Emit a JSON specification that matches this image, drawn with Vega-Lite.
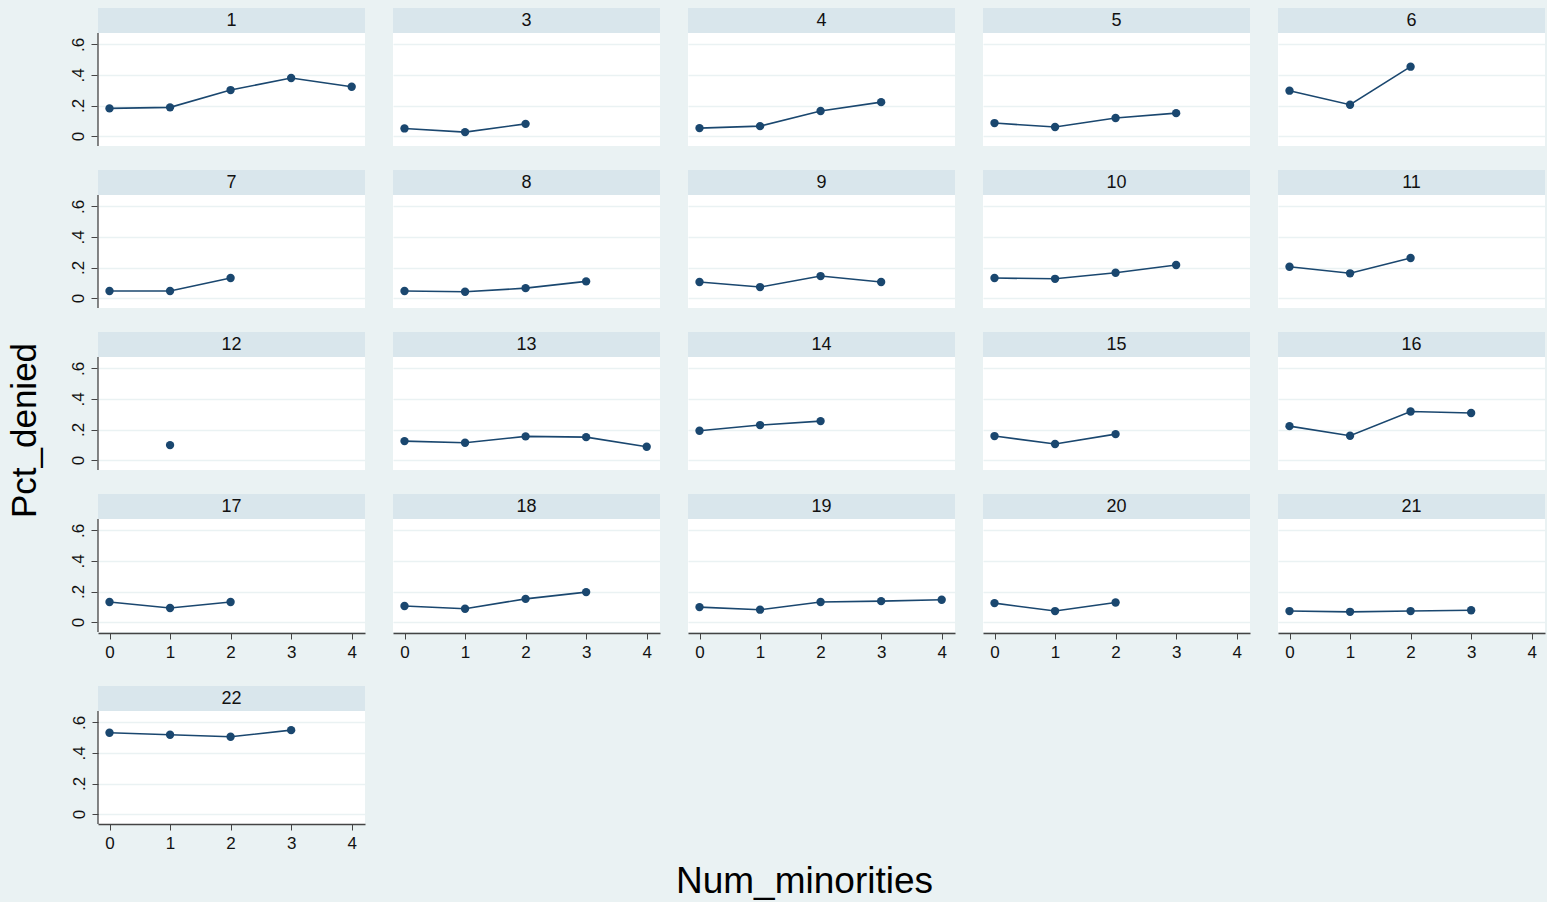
{
  "$schema": "https://vega.github.io/schema/vega-lite/v6.json",
  "background": "#eaf2f3",
  "padding": {"left": 8, "top": 7, "right": 2, "bottom": 2},
  "config": {
    "view": {"fill": "white", "stroke": null},
    "font": "Liberation Sans",
    "axis": {"labelFont": "Liberation Sans", "labelColor": "#111111"},
    "header": {"labels": false, "title": null},
    "headerFacet": {"labels": false, "title": null}
  },
  "title": {"text": "Num_minorities", "orient": "bottom", "fontSize": 37, "fontWeight": "normal", "font": "Liberation Sans", "color": "#000000", "offset": 11, "anchor": "middle", "dx": 28},
  "datasets": {"pts": [
    {"grp": 1, "x": 0, "y": 0.181}, {"grp": 1, "x": 1, "y": 0.188}, {"grp": 1, "x": 2, "y": 0.301}, {"grp": 1, "x": 3, "y": 0.380}, {"grp": 1, "x": 4, "y": 0.323},
    {"grp": 3, "x": 0, "y": 0.050}, {"grp": 3, "x": 1, "y": 0.026}, {"grp": 3, "x": 2, "y": 0.080},
    {"grp": 4, "x": 0, "y": 0.052}, {"grp": 4, "x": 1, "y": 0.065}, {"grp": 4, "x": 2, "y": 0.164}, {"grp": 4, "x": 3, "y": 0.222},
    {"grp": 5, "x": 0, "y": 0.085}, {"grp": 5, "x": 1, "y": 0.059}, {"grp": 5, "x": 2, "y": 0.118}, {"grp": 5, "x": 3, "y": 0.150},
    {"grp": 6, "x": 0, "y": 0.297}, {"grp": 6, "x": 1, "y": 0.205}, {"grp": 6, "x": 2, "y": 0.454},
    {"grp": 7, "x": 0, "y": 0.046}, {"grp": 7, "x": 1, "y": 0.046}, {"grp": 7, "x": 2, "y": 0.131},
    {"grp": 8, "x": 0, "y": 0.046}, {"grp": 8, "x": 1, "y": 0.041}, {"grp": 8, "x": 2, "y": 0.065}, {"grp": 8, "x": 3, "y": 0.109},
    {"grp": 9, "x": 0, "y": 0.105}, {"grp": 9, "x": 1, "y": 0.072}, {"grp": 9, "x": 2, "y": 0.144}, {"grp": 9, "x": 3, "y": 0.105},
    {"grp": 10, "x": 0, "y": 0.131}, {"grp": 10, "x": 1, "y": 0.126}, {"grp": 10, "x": 2, "y": 0.166}, {"grp": 10, "x": 3, "y": 0.216},
    {"grp": 11, "x": 0, "y": 0.205}, {"grp": 11, "x": 1, "y": 0.162}, {"grp": 11, "x": 2, "y": 0.262},
    {"grp": 12, "x": 1, "y": 0.098},
    {"grp": 13, "x": 0, "y": 0.124}, {"grp": 13, "x": 1, "y": 0.113}, {"grp": 13, "x": 2, "y": 0.155}, {"grp": 13, "x": 3, "y": 0.150}, {"grp": 13, "x": 4, "y": 0.087},
    {"grp": 14, "x": 0, "y": 0.192}, {"grp": 14, "x": 1, "y": 0.229}, {"grp": 14, "x": 2, "y": 0.255},
    {"grp": 15, "x": 0, "y": 0.157}, {"grp": 15, "x": 1, "y": 0.105}, {"grp": 15, "x": 2, "y": 0.170},
    {"grp": 16, "x": 0, "y": 0.222}, {"grp": 16, "x": 1, "y": 0.159}, {"grp": 16, "x": 2, "y": 0.318}, {"grp": 16, "x": 3, "y": 0.308},
    {"grp": 17, "x": 0, "y": 0.131}, {"grp": 17, "x": 1, "y": 0.092}, {"grp": 17, "x": 2, "y": 0.131},
    {"grp": 18, "x": 0, "y": 0.105}, {"grp": 18, "x": 1, "y": 0.087}, {"grp": 18, "x": 2, "y": 0.152}, {"grp": 18, "x": 3, "y": 0.196},
    {"grp": 19, "x": 0, "y": 0.098}, {"grp": 19, "x": 1, "y": 0.081}, {"grp": 19, "x": 2, "y": 0.131}, {"grp": 19, "x": 3, "y": 0.137}, {"grp": 19, "x": 4, "y": 0.146},
    {"grp": 20, "x": 0, "y": 0.124}, {"grp": 20, "x": 1, "y": 0.072}, {"grp": 20, "x": 2, "y": 0.128},
    {"grp": 21, "x": 0, "y": 0.072}, {"grp": 21, "x": 1, "y": 0.067}, {"grp": 21, "x": 2, "y": 0.072}, {"grp": 21, "x": 3, "y": 0.077},
    {"grp": 22, "x": 0, "y": 0.532}, {"grp": 22, "x": 1, "y": 0.519}, {"grp": 22, "x": 2, "y": 0.506}, {"grp": 22, "x": 3, "y": 0.549}
  ],
  "ytitle": [{"t": "Pct_denied"}]},
  "spacing": 26,
  "hconcat": [
    {
      "data": {"name": "ytitle"},
      "width": 34,
      "height": 845,
      "view": {"fill": null, "stroke": null},
      "mark": {"type": "text", "angle": 270, "fontSize": 35, "font": "Liberation Sans", "color": "#000000", "align": "center", "baseline": "middle"},
      "encoding": {"text": {"field": "t", "type": "nominal"}}
    },
    {
      "data": {"name": "pts"},
      "spacing": 26,
      "vconcat": [
        {
          "transform": [{"filter": "datum.grp != 22"}],
          "facet": {"field": "grp", "type": "ordinal", "header": {"labels": false, "title": null, "labelExpr": "''", "labelFontSize": 1, "labelPadding": 0}},
          "columns": 5,
          "spacing": {"row": 22, "column": 28},
          "spec": {
            "width": 267,
            "height": 138,
            "layer": [
              {
                "transform": [{"aggregate": [{"op": "count", "as": "n"}], "groupby": ["grp"]}],
                "layer": [
                  {
                    "mark": {"type": "rect", "color": "#d9e6ec"},
                    "encoding": {
                      "x": {"datum": -0.19, "type": "quantitative", "scale": {"domain": [-0.19, 4.22], "nice": false, "zero": false}, "axis": {"title": null}},
                      "x2": {"datum": 4.22},
                      "y": {"datum": 0.674, "type": "quantitative", "scale": {"domain": [-0.065, 0.838], "nice": false, "zero": false}, "axis": {"title": null}},
                      "y2": {"datum": 0.838}
                    }
                  },
                  {
                    "mark": {"type": "text", "fontSize": 18, "font": "Liberation Sans", "color": "#111111", "align": "center", "baseline": "middle"},
                    "encoding": {
                      "x": {"datum": 2.015, "type": "quantitative"},
                      "y": {"datum": 0.754, "type": "quantitative"},
                      "text": {"field": "grp", "type": "nominal"}
                    }
                  },
                  {
                    "transform": [{"filter": "datum.grp == 1 || datum.grp == 7 || datum.grp == 12 || datum.grp == 17"}],
                    "mark": {"type": "rule", "color": "#444444", "strokeWidth": 1.3},
                    "encoding": {
                      "x": {"datum": -0.19, "type": "quantitative"},
                      "y": {"datum": -0.065, "type": "quantitative"},
                      "y2": {"datum": 0.674}
                    }
                  }
                ]
              },
              {
                "mark": {"type": "line", "color": "#1a476f", "strokeWidth": 1.6, "point": {"filled": true, "size": 70, "color": "#1a476f", "opacity": 1}},
                "encoding": {
                  "x": {"field": "x", "type": "quantitative", "scale": {"domain": [-0.19, 4.22], "nice": false, "zero": false},
                        "axis": {"title": null, "values": [0, 1, 2, 3, 4], "format": "d", "grid": false, "domainColor": "#444444", "domainWidth": 1.3, "tickColor": "#444444", "tickSize": 6, "labelFontSize": 17, "labelPadding": 5}},
                  "y": {"field": "y", "type": "quantitative", "scale": {"domain": [-0.065, 0.838], "nice": false, "zero": false},
                        "axis": {"title": null, "values": [0, 0.2, 0.4, 0.6], "domain": false, "grid": true, "gridColor": "#eaf2f3", "gridWidth": 1.5, "tickColor": "#444444", "tickSize": 6, "labelFontSize": 17, "labelAngle": 270, "labelAlign": "center", "labelBaseline": "bottom", "labelPadding": 4,
                                 "labelExpr": "datum.value == 0 ? '0' : replace(format(datum.value, '.1f'), '0.', '.')"}}
                }
              }
            ]
          }
        },
        {
          "transform": [{"filter": "datum.grp == 22"}],
          "width": 267,
          "height": 138,
          "layer": [
            {
              "transform": [{"aggregate": [{"op": "count", "as": "n"}], "groupby": ["grp"]}],
              "layer": [
                {
                  "mark": {"type": "rect", "color": "#d9e6ec"},
                  "encoding": {
                    "x": {"datum": -0.19, "type": "quantitative", "scale": {"domain": [-0.19, 4.22], "nice": false, "zero": false}, "axis": {"title": null}},
                    "x2": {"datum": 4.22},
                    "y": {"datum": 0.674, "type": "quantitative", "scale": {"domain": [-0.065, 0.838], "nice": false, "zero": false}, "axis": {"title": null}},
                    "y2": {"datum": 0.838}
                  }
                },
                {
                  "mark": {"type": "text", "fontSize": 18, "font": "Liberation Sans", "color": "#111111", "align": "center", "baseline": "middle"},
                  "encoding": {
                    "x": {"datum": 2.015, "type": "quantitative"},
                    "y": {"datum": 0.754, "type": "quantitative"},
                    "text": {"field": "grp", "type": "nominal"}
                  }
                },
                {
                  "mark": {"type": "rule", "color": "#444444", "strokeWidth": 1.3},
                  "encoding": {
                    "x": {"datum": -0.19, "type": "quantitative"},
                    "y": {"datum": -0.065, "type": "quantitative"},
                    "y2": {"datum": 0.674}
                  }
                }
              ]
            },
            {
              "mark": {"type": "line", "color": "#1a476f", "strokeWidth": 1.6, "point": {"filled": true, "size": 70, "color": "#1a476f", "opacity": 1}},
              "encoding": {
                "x": {"field": "x", "type": "quantitative", "scale": {"domain": [-0.19, 4.22], "nice": false, "zero": false},
                      "axis": {"title": null, "values": [0, 1, 2, 3, 4], "format": "d", "grid": false, "domainColor": "#444444", "domainWidth": 1.3, "tickColor": "#444444", "tickSize": 6, "labelFontSize": 17, "labelPadding": 5}},
                "y": {"field": "y", "type": "quantitative", "scale": {"domain": [-0.065, 0.838], "nice": false, "zero": false},
                      "axis": {"title": null, "values": [0, 0.2, 0.4, 0.6], "domain": false, "grid": true, "gridColor": "#eaf2f3", "gridWidth": 1.5, "tickColor": "#444444", "tickSize": 6, "labelFontSize": 17, "labelAngle": 270, "labelAlign": "center", "labelBaseline": "bottom", "labelPadding": 4,
                               "labelExpr": "datum.value == 0 ? '0' : replace(format(datum.value, '.1f'), '0.', '.')"}}
              }
            }
          ]
        }
      ]
    }
  ]
}
